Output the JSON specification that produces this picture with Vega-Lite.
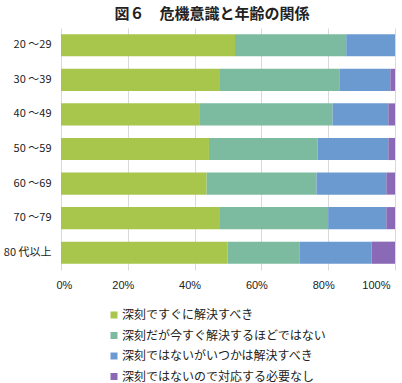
{
  "$schema": "https://vega.github.io/schema/vega-lite/v6.json",
  "width": 334,
  "height": 242,
  "autosize": {"type": "none"},
  "padding": {"left": 61, "top": 28, "right": 7, "bottom": 113},
  "background": "white",
  "title": {
    "text": "図６　危機意識と年齢の関係",
    "font": "Noto Sans CJK JP",
    "fontSize": 15,
    "fontWeight": "bold",
    "color": "#222222",
    "anchor": "middle",
    "dx": -16,
    "offset": 6
  },
  "data": {
    "values": [
      {"age": "20 ～29", "cat": "深刻ですぐに解決すべき", "o": 1, "v": 52.1},
      {"age": "20 ～29", "cat": "深刻だが今すぐ解決するほどではない", "o": 2, "v": 33.3},
      {"age": "20 ～29", "cat": "深刻ではないがいつかは解決すべき", "o": 3, "v": 14.6},
      {"age": "20 ～29", "cat": "深刻ではないので対応する必要なし", "o": 4, "v": 0},
      {"age": "30 ～39", "cat": "深刻ですぐに解決すべき", "o": 1, "v": 47.6},
      {"age": "30 ～39", "cat": "深刻だが今すぐ解決するほどではない", "o": 2, "v": 35.9},
      {"age": "30 ～39", "cat": "深刻ではないがいつかは解決すべき", "o": 3, "v": 15.1},
      {"age": "30 ～39", "cat": "深刻ではないので対応する必要なし", "o": 4, "v": 1.4},
      {"age": "40 ～49", "cat": "深刻ですぐに解決すべき", "o": 1, "v": 41.6},
      {"age": "40 ～49", "cat": "深刻だが今すぐ解決するほどではない", "o": 2, "v": 39.7},
      {"age": "40 ～49", "cat": "深刻ではないがいつかは解決すべき", "o": 3, "v": 16.7},
      {"age": "40 ～49", "cat": "深刻ではないので対応する必要なし", "o": 4, "v": 2.0},
      {"age": "50 ～59", "cat": "深刻ですぐに解決すべき", "o": 1, "v": 44.3},
      {"age": "50 ～59", "cat": "深刻だが今すぐ解決するほどではない", "o": 2, "v": 32.5},
      {"age": "50 ～59", "cat": "深刻ではないがいつかは解決すべき", "o": 3, "v": 21.2},
      {"age": "50 ～59", "cat": "深刻ではないので対応する必要なし", "o": 4, "v": 2.0},
      {"age": "60 ～69", "cat": "深刻ですぐに解決すべき", "o": 1, "v": 43.6},
      {"age": "60 ～69", "cat": "深刻だが今すぐ解決するほどではない", "o": 2, "v": 32.9},
      {"age": "60 ～69", "cat": "深刻ではないがいつかは解決すべき", "o": 3, "v": 20.9},
      {"age": "60 ～69", "cat": "深刻ではないので対応する必要なし", "o": 4, "v": 2.6},
      {"age": "70 ～79", "cat": "深刻ですぐに解決すべき", "o": 1, "v": 47.6},
      {"age": "70 ～79", "cat": "深刻だが今すぐ解決するほどではない", "o": 2, "v": 32.4},
      {"age": "70 ～79", "cat": "深刻ではないがいつかは解決すべき", "o": 3, "v": 17.4},
      {"age": "70 ～79", "cat": "深刻ではないので対応する必要なし", "o": 4, "v": 2.6},
      {"age": "80 代以上", "cat": "深刻ですぐに解決すべき", "o": 1, "v": 49.9},
      {"age": "80 代以上", "cat": "深刻だが今すぐ解決するほどではない", "o": 2, "v": 21.6},
      {"age": "80 代以上", "cat": "深刻ではないがいつかは解決すべき", "o": 3, "v": 21.5},
      {"age": "80 代以上", "cat": "深刻ではないので対応する必要なし", "o": 4, "v": 7.0}
    ]
  },
  "mark": {"type": "bar"},
  "encoding": {
    "y": {
      "field": "age",
      "type": "nominal",
      "sort": null,
      "scale": {"paddingInner": 0.36, "paddingOuter": 0.18},
      "axis": {
        "title": null,
        "domain": false,
        "ticks": false,
        "labelPadding": 10,
        "labelFont": "Noto Sans CJK JP",
        "labelFontSize": 11,
        "labelColor": "#222222"
      }
    },
    "x": {
      "field": "v",
      "type": "quantitative",
      "stack": "normalize",
      "scale": {"domain": [0, 1]},
      "axis": {
        "title": null,
        "format": "%",
        "values": [0, 0.2, 0.4, 0.6, 0.8, 1],
        "domain": false,
        "ticks": false,
        "grid": true,
        "gridColor": "#d9d9d9",
        "labelPadding": 9,
        "labelOffset": -5,
        "labelFont": "Liberation Sans",
        "labelFontSize": 11,
        "labelColor": "#222222",
        "labelBound": false,
        "labelOverlap": false
      }
    },
    "order": {"field": "o", "type": "quantitative"},
    "color": {
      "field": "cat",
      "type": "nominal",
      "sort": ["深刻ですぐに解決すべき", "深刻だが今すぐ解決するほどではない", "深刻ではないがいつかは解決すべき", "深刻ではないので対応する必要なし"],
      "scale": {
        "domain": ["深刻ですぐに解決すべき", "深刻だが今すぐ解決するほどではない", "深刻ではないがいつかは解決すべき", "深刻ではないので対応する必要なし"],
        "range": ["#A8C64B", "#7CBBA0", "#6A9AD0", "#8A6AB6"]
      },
      "legend": {
        "title": null,
        "orient": "none",
        "legendX": 47,
        "legendY": 281,
        "direction": "vertical",
        "symbolType": "square",
        "symbolSize": 49,
        "symbolStrokeWidth": 0,
        "symbolOffset": 0,
        "labelFont": "Noto Sans CJK JP",
        "labelFontSize": 12,
        "labelColor": "#222222",
        "labelOffset": 2,
        "rowPadding": 8.5,
        "labelLimit": 300
      }
    }
  },
  "config": {"view": {"stroke": null}}
}
